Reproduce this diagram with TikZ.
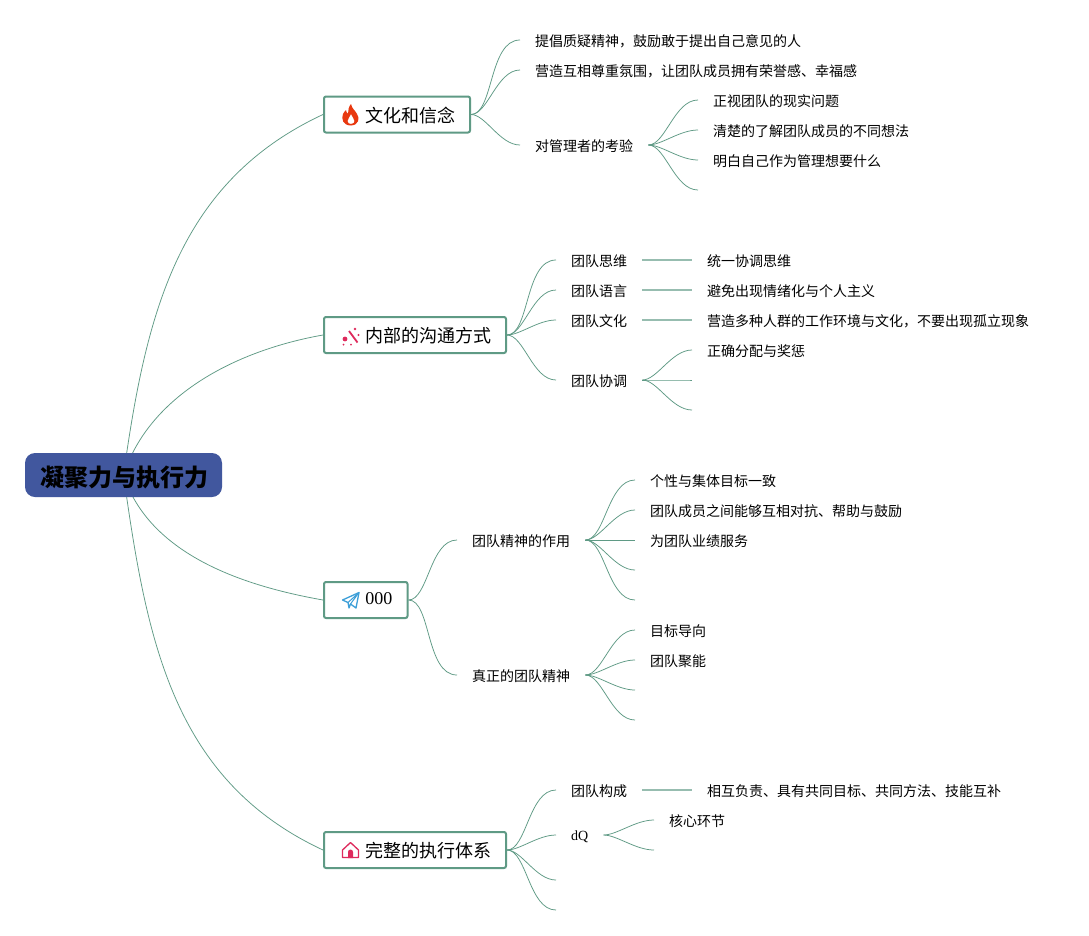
\documentclass[tikz,border=0pt]{standalone}
\usepackage{fontspec}
\setmainfont{Liberation Serif}
\newfontfamily\cjk{Noto Sans CJK SC}
\usetikzlibrary{backgrounds}
\definecolor{linkc}{HTML}{5F9A85}
\definecolor{rootc}{HTML}{41579E}
\definecolor{flamec}{HTML}{E8380F}
\definecolor{pinkc}{HTML}{DE2A5C}
\definecolor{bluec}{HTML}{3D9FD8}
\tikzset{
  link/.style={draw=linkc,line width=0.75pt,out=0,in=180,out looseness=0.65,in looseness=0.9},
  straightlink/.style={draw=linkc!65,line width=1.1pt},
  rootlink/.style={draw=linkc,line width=0.75pt},
  txt/.style={anchor=west,inner xsep=15pt,inner ysep=0pt,text height=12.5pt,text depth=0pt,font=\fontsize{14}{16}\selectfont\cjk,text=black},
  latin/.style={anchor=west,inner xsep=15pt,inner ysep=0pt,text height=11.5pt,text depth=0pt,font=\fontsize{14}{16}\selectfont,text=black},
  mainbox/.style={draw=linkc,line width=2pt,rounded corners=2pt,fill=white,minimum height=36pt,inner sep=0pt,text height=15pt,text depth=0pt,font=\fontsize{18}{20}\selectfont\cjk,text=black,anchor=west},
  rootbox/.style={fill=rootc,rounded corners=10pt,minimum width=197pt,minimum height=44pt,inner sep=0pt,text height=22pt,text depth=0pt,font=\fontsize{24}{26}\selectfont\cjk\bfseries,text=black}
}
\begin{document}
\begin{tikzpicture}[x=1pt,y=-1pt]
\useasboundingbox (0,0) rectangle (1089,935);

% root and main boxes
\node[rootbox] (root) at (123.5,475) {\hspace*{2pt}凝聚力与执行力};
\node[mainbox,minimum width=146pt] (m1) at (323,114.5) {\hspace*{26.5pt}文化和信念};
\node[mainbox,minimum width=182pt] (m2) at (323,335) {\hspace*{26.5pt}内部的沟通方式};
\node[mainbox,minimum width=83.5pt,text height=8pt] (m3) at (323,600) {\hspace*{26pt}\normalfont\fontsize{18}{20}\selectfont 000};
\node[mainbox,minimum width=182pt] (m4) at (323,850) {\hspace*{26.5pt}完整的执行体系};

% group 1
\node[txt] (a1) at (520,40) {提倡质疑精神，鼓励敢于提出自己意见的人};
\node[txt] (a2) at (520,70) {营造互相尊重氛围，让团队成员拥有荣誉感、幸福感};
\node[txt] (a3) at (520,145) {对管理者的考验};
\node[txt] (a31) at (698,100) {正视团队的现实问题};
\node[txt] (a32) at (698,130) {清楚的了解团队成员的不同想法};
\node[txt] (a33) at (698,160) {明白自己作为管理想要什么};
\coordinate (a34) at (698,190);

% group 2
\node[txt] (b1) at (556,260) {团队思维};
\node[txt] (b2) at (556,290) {团队语言};
\node[txt] (b3) at (556,320) {团队文化};
\node[txt] (b4) at (556,380) {团队协调};
\node[txt] (b11) at (692,260) {统一协调思维};
\node[txt] (b21) at (692,290) {避免出现情绪化与个人主义};
\node[txt] (b31) at (692,320) {营造多种人群的工作环境与文化，不要出现孤立现象};
\node[txt] (b41) at (692,350) {正确分配与奖惩};
\coordinate (b42) at (692,380);
\coordinate (b43) at (692,410);

% group 3
\node[txt] (c1) at (457,540) {团队精神的作用};
\node[txt] (c2) at (457,675) {真正的团队精神};
\node[txt] (c11) at (635,480) {个性与集体目标一致};
\node[txt] (c12) at (635,510) {团队成员之间能够互相对抗、帮助与鼓励};
\node[txt] (c13) at (635,540) {为团队业绩服务};
\coordinate (c14) at (635,570);
\coordinate (c15) at (635,600);
\node[txt] (c21) at (635,630) {目标导向};
\node[txt] (c22) at (635,660) {团队聚能};
\coordinate (c23) at (635,690);
\coordinate (c24) at (635,720);

% group 4
\node[txt] (d1) at (556,790) {团队构成};
\node[latin] (d2) at (556,835) {dQ};
\coordinate (d3) at (556,880);
\coordinate (d4) at (556,910);
\node[txt] (d11) at (692,790) {相互负责、具有共同目标、共同方法、技能互补};
\node[txt] (d21) at (654,820) {核心环节};
\coordinate (d22) at (654,850);

\begin{scope}[on background layer]
\fill[white] (0,0) rectangle (1089,935);
\path[rootlink] (root.center) to[out=82,in=205,looseness=1.0] (m1.west);
\path[rootlink] (root.center) to[out=72,in=190,looseness=0.9] (m2.west);
\path[rootlink] (root.center) to[out=-72,in=170,looseness=0.9] (m3.west);
\path[rootlink] (root.center) to[out=-82,in=155,looseness=1.0] (m4.west);
\path[link] (m1.east) to (a1.west);
\path[link] (m1.east) to (a2.west);
\path[link] (m1.east) to (a3.west);
\foreach \t in {a31.west,a32.west,a33.west,a34} \path[link] (a3.east) to (\t);
\foreach \t in {b1,b2,b3,b4} \path[link] (m2.east) to (\t.west);
\draw[straightlink] (b1.east) -- (b11.west);
\draw[straightlink] (b2.east) -- (b21.west);
\draw[straightlink] (b3.east) -- (b31.west);
\foreach \t in {b41.west,b42,b43} \path[link] (b4.east) to (\t);
\foreach \t in {c1,c2} \path[link] (m3.east) to (\t.west);
\foreach \t in {c11.west,c12.west,c13.west,c14,c15} \path[link] (c1.east) to (\t);
\foreach \t in {c21.west,c22.west,c23,c24} \path[link] (c2.east) to (\t);
\foreach \t in {d1.west,d2.west,d3,d4} \path[link] (m4.east) to (\t);
\draw[straightlink] (d1.east) -- (d11.west);
\foreach \t in {d21.west,d22} \path[link] (d2.east) to (\t);
\end{scope}

% flame icon
\fill[flamec,even odd rule] (351,104) .. controls (352,109) and (355,110) .. (357,114)
  .. controls (360,118) and (359,125) .. (351,125.5)
  .. controls (343,125.5) and (341,119) .. (343,114)
  .. controls (344,112) and (345,111) .. (346,110)
  .. controls (346,112) and (347,113) .. (348,113.5)
  .. controls (348,110) and (349,106) .. (351,104) -- cycle
  (351,114) .. controls (350,117) and (347.5,119) .. (347.5,121)
  .. controls (347.5,123) and (349,124) .. (351,124)
  .. controls (353.5,124) and (354.5,122.5) .. (354.5,121)
  .. controls (354.5,119) and (352,117) .. (351,114) -- cycle;

% wand icon
\draw[pinkc,line width=1.8pt] (349,331) -- (357.5,342.5);
\fill[pinkc] (345,339) circle (2.4pt) (355,329) circle (1.3pt) (358.5,335) circle (1.1pt)
  (351,344.5) circle (1pt) (343.5,344.5) circle (1pt);

% plane icon
\draw[bluec,line width=1.3pt,line join=round] (342.5,600) -- (359,592.5) -- (356,608) -- (350.5,604) -- (349,608) -- (348,602.5) -- cycle;
\draw[bluec,line width=1pt] (348,602.5) -- (359,592.5) -- (350.5,604);

% house icon
\draw[pinkc,line width=1.3pt,line join=round] (342.5,850) -- (350.5,842.5) -- (358.5,850) -- (358.5,857.5) -- (342.5,857.5) -- cycle;
\fill[pinkc] (348,858) -- (348,852) arc[start angle=180,end angle=0,radius=2.5pt] -- (353,858) -- cycle;
\end{tikzpicture}
\end{document}
